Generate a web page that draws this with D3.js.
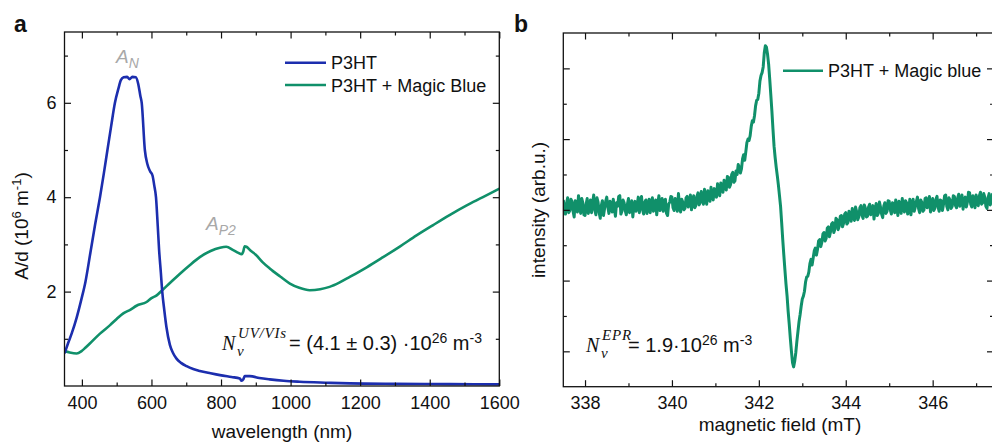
<!DOCTYPE html>
<html>
<head>
<meta charset="utf-8">
<script src="https://cdn.jsdelivr.net/npm/d3@7"></script>
<style>
body { margin: 0; background: #fff; }
svg text { font-family: "Liberation Sans", Arial, sans-serif; fill: #111; }
</style>
</head>
<body>
<svg id="chart" width="992" height="444"></svg>
<script>
// ---- panel a: UV/Vis absorption (A/d in 10^6 m^-1) ----
var p3htWavelength = [350,360,371,385,399,410,425,438,452,463,473,484,495,505,512,520,530,537,545,
	555,562,568,572,581,588,596,603,608,613,618,622,627,631,637,643,653,662,672,685,
	701,720,739,770,797,830,854,859,864,868,883,910,940,980,1026,1100,1170,1300,1457,1600];
var p3htAbs = [0.69,0.90,1.12,1.45,1.85,2.2,2.85,3.42,4.0,4.5,4.98,5.5,6.0,6.3,6.48,6.54,6.55,6.50,6.55,
	6.54,6.40,6.15,6.0,5.0,4.71,4.55,4.46,4.25,4.0,3.4,2.88,2.4,2.0,1.6,1.25,0.87,0.70,0.58,0.49,
	0.42,0.36,0.32,0.27,0.23,0.19,0.16,0.11,0.14,0.21,0.21,0.17,0.14,0.11,0.09,0.07,0.055,0.045,0.04,0.035];

var magicWavelength = [350,365,385,399,410,423,452,481,500,519,540,557,586,600,615,631,650,682,710,739,
	770,797,815,835,850,859,864,868,873,883,900,920,940,970,998,1025,1055,1085,1112,1140,
	1170,1220,1266,1315,1362,1410,1457,1505,1553,1600];
var magicAbs = [0.74,0.71,0.69,0.74,0.81,0.90,1.11,1.29,1.42,1.54,1.62,1.70,1.78,1.86,1.92,2.03,2.16,2.38,2.56,2.73,
	2.86,2.93,2.95,2.88,2.82,2.79,2.85,2.96,2.95,2.88,2.78,2.62,2.49,2.32,2.17,2.08,2.03,2.05,2.10,2.19,
	2.31,2.52,2.73,2.96,3.19,3.41,3.62,3.82,4.0,4.18];

var uvXMajor = [400,600,800,1000,1200,1400,1600];
var uvXMinor = [500,700,900,1100,1300,1500];
var uvYMajor = [2,4,6];
var uvYMinor = [1,3,5,7];

// ---- panel b: EPR, sampled every 0.025 mT from 337.5 mT ----
var eprStart = 337.5, eprStep = 0.025;
var eprIntensity = [
	0.14,0.02,-0.06,0.09,0.17,-0.04,-0.01,0.15,0.12,-0.02,-0.10,0.13,0.07,-0.03,0.20,0.06,-0.05,0.16,0.10,-0.07,
	-0.08,0.08,0.16,-0.05,0.03,0.14,-0.04,0.10,0.21,0.00,-0.07,0.17,0.11,-0.04,-0.12,0.06,0.13,-0.08,0.02,0.12,
	0.18,0.04,-0.05,0.12,0.08,-0.03,0.15,0.01,-0.09,0.10,0.05,0.19,0.20,-0.06,-0.02,0.14,0.10,-0.01,-0.07,0.08,
	0.16,-0.04,0.01,0.13,-0.10,0.06,0.12,-0.02,0.07,0.18,-0.04,0.09,0.19,0.00,-0.06,0.11,0.14,-0.05,0.04,0.15,
	-0.04,0.10,0.17,-0.02,0.06,0.14,-0.07,0.09,0.20,-0.01,0.03,0.16,-0.02,0.12,0.15,-0.05,-0.08,0.08,0.11,0.19,
	0.18,0.03,-0.01,0.16,0.13,-0.02,0.23,0.07,-0.03,0.15,0.11,0.00,0.02,0.17,0.19,0.04,0.08,0.21,0.00,0.13,
	0.20,0.03,0.06,0.19,0.24,0.07,0.10,0.26,0.17,0.08,0.29,0.15,0.08,0.27,0.22,0.12,0.32,0.18,0.14,0.30,
	0.26,0.18,0.37,0.27,0.20,0.38,0.34,0.25,0.42,0.33,0.28,0.47,0.46,0.32,0.36,0.50,0.53,0.39,0.41,0.55,
	0.50,0.64,0.60,0.52,0.58,0.72,0.78,0.70,0.82,0.95,1.00,0.98,1.05,1.18,1.26,1.24,1.33,1.47,1.55,1.56,
	1.65,1.82,1.90,1.94,2.02,2.22,2.32,2.30,2.20,2.06,1.85,1.63,1.40,1.14,0.90,0.74,0.60,0.48,0.35,0.20,
	0.05,-0.18,-0.42,-0.64,-0.85,-1.05,-1.22,-1.44,-1.62,-1.82,-2.00,-2.16,-2.22,-2.14,-2.02,-1.86,-1.72,-1.58,-1.48,-1.36,
	-1.26,-1.22,-1.15,-1.02,-0.95,-0.94,-0.88,-0.76,-0.70,-0.78,-0.68,-0.58,-0.54,-0.64,-0.56,-0.44,-0.42,-0.52,-0.46,-0.34,
	-0.32,-0.44,-0.40,-0.26,-0.24,-0.38,-0.31,-0.20,-0.18,-0.32,-0.27,-0.12,-0.14,-0.28,-0.23,-0.09,-0.08,-0.24,-0.19,-0.06,
	-0.04,-0.20,-0.18,-0.02,-0.06,-0.16,0.02,-0.09,-0.15,0.04,-0.02,-0.14,-0.10,0.03,0.06,-0.08,-0.12,0.07,0.03,-0.10,
	-0.09,0.04,0.08,-0.07,-0.03,0.06,-0.13,-0.01,0.09,-0.08,-0.05,0.11,0.04,-0.06,-0.11,0.05,0.10,-0.05,-0.02,0.13,
	0.12,0.00,-0.06,0.10,0.08,-0.04,0.14,0.03,-0.08,0.12,0.06,-0.05,0.16,0.05,-0.03,0.13,0.10,-0.06,0.01,0.15,
	-0.07,0.06,0.15,-0.02,0.04,0.12,0.18,0.02,-0.04,0.14,0.11,-0.02,0.00,0.16,0.17,0.03,0.07,0.19,-0.03,0.10,
	0.16,-0.01,0.02,0.15,0.19,0.04,-0.02,0.14,0.13,-0.01,0.08,0.20,0.21,0.05,0.00,0.17,0.14,0.02,0.05,0.20,
	0.19,0.06,0.03,0.17,0.22,0.05,0.09,0.21,0.01,0.13,0.18,0.04,0.11,0.25,0.24,0.08,0.04,0.20,0.15,0.03,
	0.21,0.09,0.06,0.20,0.25,0.08,0.10,0.23,0.18,0.05,0.02,0.17,0.23,0.07,0.12,0.22,0.16];

var eprXMajor = [338,340,342,344,346];
var eprXMinor = [339,341,343,345,347];
var eprYMajor = [-2,-1,0,1,2];
var eprYMinor = [-1.5,-0.5,0.5,1.5];

var blue  = '#1c2eae';
var green = '#10906a';

var svg = d3.select('#chart');

// frame + inward ticks on all four sides
function drawFrame(g, x, y, xMajor, xMinor, yMajor, yMinor, yLabels) {
	var w = x.range()[1], h = y.range()[0];

	function style(a) {
		a.select('.domain').remove();
		a.selectAll('.tick line').attr('stroke', '#111').attr('stroke-width', 1.2);
		a.attr('font-family', '"Liberation Sans", Arial, sans-serif').attr('font-size', 18);
		return a;
	}

	style(g.append('g').attr('transform', 'translate(0,' + h + ')')
		.call(d3.axisBottom(x).tickValues(xMajor).tickFormat(d3.format('d'))
			.tickSizeInner(-6.5).tickSizeOuter(0).tickPadding(10)));
	style(g.append('g').attr('transform', 'translate(0,' + h + ')')
		.call(d3.axisBottom(x).tickValues(xMinor).tickSizeInner(-3.5).tickSizeOuter(0).tickFormat('')));
	style(g.append('g')
		.call(d3.axisTop(x).tickValues(xMajor).tickSizeInner(-6.5).tickSizeOuter(0).tickFormat('')));
	style(g.append('g')
		.call(d3.axisTop(x).tickValues(xMinor).tickSizeInner(-3.5).tickSizeOuter(0).tickFormat('')));

	var left = d3.axisLeft(y).tickValues(yMajor).tickSizeInner(-6.5).tickSizeOuter(0).tickPadding(8)
		.tickFormat(yLabels ? d3.format('d') : '');
	style(g.append('g').call(left));
	style(g.append('g')
		.call(d3.axisLeft(y).tickValues(yMinor).tickSizeInner(-3.5).tickSizeOuter(0).tickFormat('')));
	style(g.append('g').attr('transform', 'translate(' + w + ',0)')
		.call(d3.axisRight(y).tickValues(yMajor).tickSizeInner(-6.5).tickSizeOuter(0).tickFormat('')));
	style(g.append('g').attr('transform', 'translate(' + w + ',0)')
		.call(d3.axisRight(y).tickValues(yMinor).tickSizeInner(-3.5).tickSizeOuter(0).tickFormat('')));

	g.append('rect')
		.attr('width', w).attr('height', h)
		.attr('fill', 'none').attr('stroke', '#111').attr('stroke-width', 1.3);
}

// ================= panel a =================
var aBox = {left: 64.5, top: 32, right: 499.3, bottom: 386};
var aW = aBox.right - aBox.left, aH = aBox.bottom - aBox.top;
var ga = svg.append('g').attr('transform', 'translate(' + aBox.left + ',' + aBox.top + ')');

var xa = d3.scaleLinear().domain([350, 1600]).range([0, aW]);
var ya = d3.scaleLinear().domain([0, 7.5]).range([aH, 0]);

ga.append('clipPath').attr('id', 'clipA')
	.append('rect').attr('width', aW).attr('height', aH);

var lineA = d3.line()
	.x(function(d) { return xa(d[0]); })
	.y(function(d) { return ya(d[1]); })
	.curve(d3.curveMonotoneX);

ga.append('path')
	.datum(d3.zip(magicWavelength, magicAbs))
	.attr('clip-path', 'url(#clipA)')
	.attr('fill', 'none').attr('stroke', green).attr('stroke-width', 2.6)
	.attr('d', lineA);
ga.append('path')
	.datum(d3.zip(p3htWavelength, p3htAbs))
	.attr('clip-path', 'url(#clipA)')
	.attr('fill', 'none').attr('stroke', blue).attr('stroke-width', 2.6)
	.attr('d', lineA);

drawFrame(ga, xa, ya, uvXMajor, uvXMinor, uvYMajor, uvYMinor, true);

// legend a
var legA = [{label: 'P3HT', color: blue}, {label: 'P3HT + Magic Blue', color: green}];
legA.forEach(function(d, i) {
	var yy = 62.7 + i * 22.3;
	svg.append('line').attr('x1', 285).attr('x2', 326).attr('y1', yy).attr('y2', yy)
		.attr('stroke', d.color).attr('stroke-width', 2.6);
	svg.append('text').attr('x', 331).attr('y', yy + 6.6).attr('font-size', 18).text(d.label);
});

// peak annotations
function peakLabel(x, y, sub) {
	var t = svg.append('text').attr('x', x).attr('y', y)
		.attr('font-style', 'italic').style('fill', '#a8a8a8').attr('font-size', 19);
	t.append('tspan').text('A');
	t.append('tspan').attr('dy', 4.5).attr('font-size', 14).text(sub);
}
peakLabel(116, 63, 'N');
peakLabel(206, 230, 'P2');

// N_v density annotation
function densityLabel(x, y, sup, supW, value) {
	var serif = '"Liberation Serif", "Times New Roman", serif';
	svg.append('text').attr('x', x).attr('y', y).style('font-family', serif)
		.attr('font-style', 'italic').attr('font-size', 20).text('N');
	svg.append('text').attr('x', x + 15).attr('y', y + 6).style('font-family', serif)
		.attr('font-style', 'italic').attr('font-size', 15).text('v');
	svg.append('text').attr('x', x + 16).attr('y', y - 12).style('font-family', serif)
		.attr('font-style', 'italic').attr('font-size', 15).attr('letter-spacing', 0.8).text(sup);
	var t = svg.append('text').attr('x', x + 16 + supW).attr('y', y).attr('font-size', 20);
	t.append('tspan').text(value);
	t.append('tspan').attr('dy', -7).attr('font-size', 14).text('26');
	t.append('tspan').attr('dy', 7).text(' m');
	t.append('tspan').attr('dy', -7).attr('font-size', 14).text('-3');
}
densityLabel(222, 350, 'UV/VIs', 51, '= (4.1 \u00b1 0.3) \u00b710');

// axis titles a
svg.append('text').attr('x', 282).attr('y', 438).attr('text-anchor', 'middle')
	.attr('font-size', 19).text('wavelength (nm)');
var yta = svg.append('text').attr('transform', 'translate(28,226) rotate(-90)')
	.attr('text-anchor', 'middle').attr('font-size', 19);
yta.append('tspan').text('A/d (10');
yta.append('tspan').attr('dy', -7).attr('font-size', 13).text('6');
yta.append('tspan').attr('dy', 7).text(' m');
yta.append('tspan').attr('dy', -7).attr('font-size', 13).text('-1');
yta.append('tspan').attr('dy', 7).text(')');

svg.append('text').attr('x', 14).attr('y', 32).attr('font-size', 23).attr('font-weight', 'bold').text('a');

// ================= panel b =================
var bBox = {left: 563.3, top: 33, right: 993.5, bottom: 386.7};
var bW = bBox.right - bBox.left, bH = bBox.bottom - bBox.top;
var gb = svg.append('g').attr('transform', 'translate(' + bBox.left + ',' + bBox.top + ')');

var xb = d3.scaleLinear().domain([337.5, 347.4]).range([0, bW]);
var yb = d3.scaleLinear().domain([-2.5, 2.5]).range([bH, 0]);

gb.append('clipPath').attr('id', 'clipB')
	.append('rect').attr('width', bW).attr('height', bH);

var lineB = d3.line()
	.x(function(d, i) { return xb(eprStart + i * eprStep); })
	.y(function(d) { return yb(d); });

gb.append('path')
	.datum(eprIntensity)
	.attr('clip-path', 'url(#clipB)')
	.attr('fill', 'none').attr('stroke', green).attr('stroke-width', 3)
	.attr('stroke-linejoin', 'round')
	.attr('d', lineB);

drawFrame(gb, xb, yb, eprXMajor, eprXMinor, eprYMajor, eprYMinor, false);

// legend b
svg.append('line').attr('x1', 783).attr('x2', 823).attr('y1', 70.7).attr('y2', 70.7)
	.attr('stroke', green).attr('stroke-width', 2.6);
svg.append('text').attr('x', 828).attr('y', 77).attr('font-size', 18).text('P3HT + Magic blue');

densityLabel(586, 351.5, 'EPR', 26, '= 1.9\u00b710');

svg.append('text').attr('x', 780).attr('y', 431).attr('text-anchor', 'middle')
	.attr('font-size', 19).text('magnetic field (mT)');
svg.append('text').attr('transform', 'translate(545,210) rotate(-90)')
	.attr('text-anchor', 'middle').attr('font-size', 19).text('intensity (arb.u.)');

svg.append('text').attr('x', 514).attr('y', 32).attr('font-size', 23).attr('font-weight', 'bold').text('b');
</script>
</body>
</html>
